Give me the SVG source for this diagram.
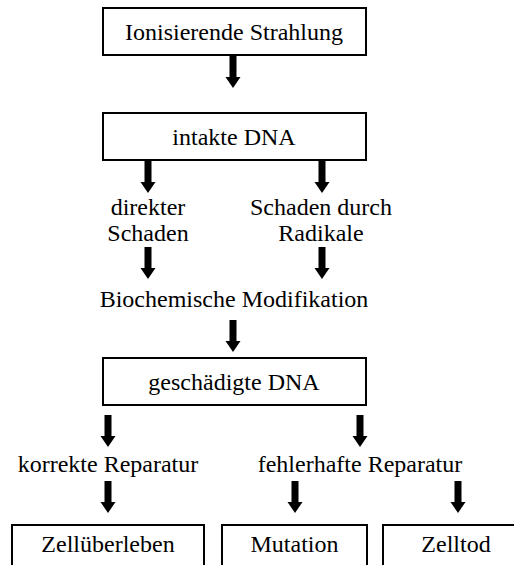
<svg xmlns="http://www.w3.org/2000/svg" width="514" height="565" viewBox="0 0 514 565">
<defs>
<style>
.box{fill:#fff;stroke:#000;stroke-width:2}
.t{font-family:'Liberation Serif','Times New Roman',Times,serif;font-size:24px;fill:#000;text-anchor:middle}
.arr{fill:#000}
</style>
<path id="a" d="M-3.5,0 H3.5 V21 H7.5 L0,32 L-7.5,21 H-3.5 Z"/>
</defs>
<rect width="514" height="565" fill="#fff"/>
<g id="n1"><rect class="box" x="103" y="8" width="263" height="47"/><text class="t" x="234" y="40">Ionisierende Strahlung</text></g>
<g id="n2"><rect class="box" x="103" y="113" width="263" height="47"/><text class="t" x="234" y="145">intakte DNA</text></g>
<g id="n3"><text class="t" x="148" y="215">direkter</text><text class="t" x="148" y="241">Schaden</text></g>
<g id="n4"><text class="t" x="321" y="215">Schaden durch</text><text class="t" x="321" y="241">Radikale</text></g>
<g id="n5"><text class="t" x="234" y="307">Biochemische Modifikation</text></g>
<g id="n6"><rect class="box" x="103" y="358" width="263" height="47"/><text class="t" x="234" y="390">geschädigte DNA</text></g>
<g id="n7"><text class="t" x="108" y="472">korrekte Reparatur</text></g>
<g id="n8"><text class="t" x="360" y="472">fehlerhafte Reparatur</text></g>
<g id="n9"><rect class="box" x="12" y="525" width="192" height="60"/><text class="t" x="108" y="552">Zellüberleben</text></g>
<g id="n10"><rect class="box" x="222" y="525" width="145" height="60"/><text class="t" x="294.5" y="552">Mutation</text></g>
<g id="n11"><rect class="box" x="383" y="525" width="146" height="60"/><text class="t" x="456" y="552">Zelltod</text></g>
<g id="connectors" class="arr">
<use href="#a" x="233" y="56"/>
<use href="#a" x="148" y="161"/>
<use href="#a" x="322" y="161"/>
<use href="#a" x="148" y="247"/>
<use href="#a" x="322" y="247"/>
<use href="#a" x="233" y="320"/>
<use href="#a" x="108" y="415"/>
<use href="#a" x="360" y="415"/>
<use href="#a" x="108" y="481"/>
<use href="#a" x="295" y="481"/>
<use href="#a" x="458" y="481"/>
</g>
</svg>
